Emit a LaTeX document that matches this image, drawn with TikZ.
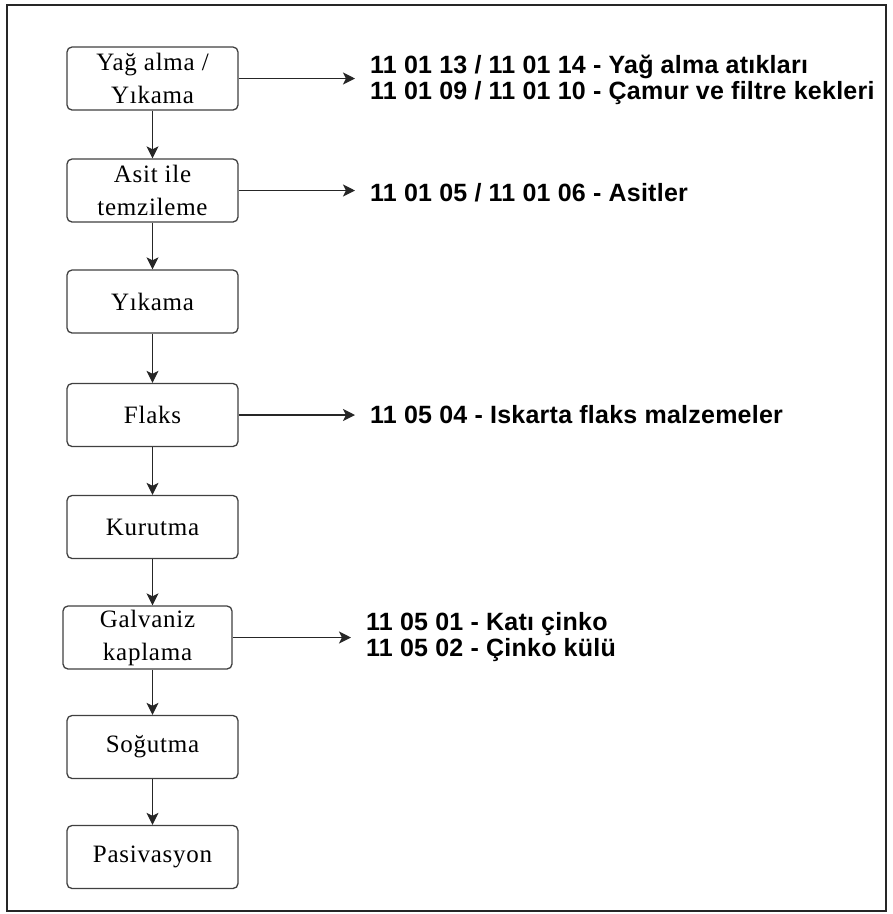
\documentclass[tikz,border=0pt]{standalone}
\usepackage{fontspec}
\setmainfont{Liberation Serif}[LetterSpace=3]
\newfontfamily\kodfont{Liberation Sans}[LetterSpace=1]
\usetikzlibrary{arrows.meta}

\tikzset{
  adim/.style={draw=black!75, line width=1.3pt, rounded corners=5pt, fill=white,
    minimum width=171pt, minimum height=63pt, inner sep=0pt, align=center,
    font=\fontsize{25}{33}\selectfont},
  atik/.style={anchor=west, inner xsep=15pt, inner ysep=0pt, align=left,
    font=\kodfont\bfseries\fontsize{25}{26}\selectfont},
  akis/.style={-{Stealth[length=12pt,width=12pt,inset=3pt]}, line width=1.2pt, black!85},
}

\begin{document}
\begin{tikzpicture}[x=1pt, y=-1pt]
  \useasboundingbox (0,0) rectangle (893,914);
  % outer frame
  \draw[line width=2pt, black!85] (7,5) rectangle (886,911);
  % process steps
  \node[adim] (yag) at (152.5,78.5) {Yağ alma /\\Yıkama};
  \node[adim] (asit) at (152.5,190.5) {Asit ile\\temzileme};
  \node[adim] (yika) at (152.5,301.5) {Yıkama};
  \node[adim] (flaks) at (152.5,415) {Flaks};
  \node[adim] (kuru) at (152.5,527) {Kurutma};
  \node[adim, minimum width=169pt] (galv) at (147.5,637.5) {Galvaniz\\kaplama};
  \node[adim] (sogu) at (152.5,747) {Soğutma};
  \node[adim] (pasi) at (152.5,857) {Pasivasyon};
  % waste codes
  \node[atik] (a1) at (355,80) {11 01 13 / 11 01 14 - Yağ alma atıkları\\11 01 09 / 11 01 10 - Çamur ve filtre kekleri};
  \node[atik] (a2) at (355,193) {11 01 05 / 11 01 06 - Asitler};
  \node[atik] (a4) at (355,415) {11 05 04 - Iskarta flaks malzemeler};
  \node[atik] (a6) at (351,637) {11 05 01 - Katı çinko\\11 05 02 - Çinko külü};
  % flow
  \foreach \a/\b in {yag/asit, asit/yika, yika/flaks, flaks/kuru, kuru/galv, galv/sogu, sogu/pasi}
    \draw[akis] (\a.south -| yag) -- (\b.north -| yag);
  \foreach \a/\b in {yag/a1, asit/a2, flaks/a4, galv/a6}
    \draw[akis] (\a.east) -- (\a.east -| \b.west);
\end{tikzpicture}
\end{document}
